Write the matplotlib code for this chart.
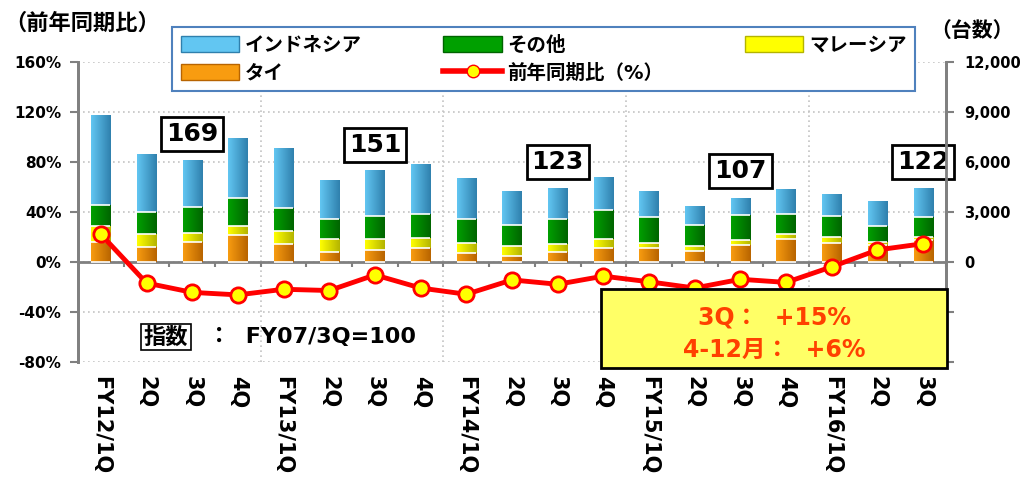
import matplotlib

matplotlib.use("Agg")
import matplotlib.pyplot as plt  # noqa: E402
import numpy as np  # noqa: E402
from matplotlib.colors import LinearSegmentedColormap  # noqa: E402
from matplotlib.lines import Line2D  # noqa: E402
from matplotlib.patches import Patch, Rectangle  # noqa: E402
from matplotlib.ticker import FuncFormatter  # noqa: E402

plt.rcParams["font.family"] = ["DejaVu Sans", "Noto Sans CJK JP"]
plt.rcParams["font.weight"] = "bold"

# データ
quarters = ["FY12/1Q", "2Q", "3Q", "4Q", "FY13/1Q", "2Q", "3Q", "4Q",
            "FY14/1Q", "2Q", "3Q", "4Q", "FY15/1Q", "2Q", "3Q", "4Q",
            "FY16/1Q", "2Q", "3Q"]
thai = [1200, 880, 1160, 1580, 1060, 580, 700, 840, 540, 360,
        560, 820, 800, 660, 1020, 1380, 1100, 1000, 1300]
malaysia = [980, 780, 560, 580, 800, 780, 680, 600, 600, 600,
            480, 560, 300, 300, 280, 280, 400, 200, 200]
others = [1220, 1340, 1600, 1660, 1380, 1240, 1360, 1460, 1440, 1240,
          1520, 1720, 1600, 1240, 1540, 1240, 1240, 940, 1200]
indonesia = [5400, 3440, 2780, 3600, 3580, 2340, 2720, 2960, 2440, 2000,
             1840, 1980, 1540, 1140, 1020, 1460, 1320, 1500, 1720]
yoy = [22, -17, -24.5, -26.5, -22, -23, -10.5, -21, -26, -14.5,
       -18, -11.5, -16, -21, -14, -16.5, -4, 9.5, 14.5]
index_pos = [2, 6, 10, 14, 18]
index_vals = [169, 151, 123, 107, 122]

# 色 (明, 暗)
C_IDN = ("#62c6f2", "#2f80ad")
C_OTH = ("#00a000", "#006400")
C_MYS = ("#ffff00", "#b4b400")
C_THA = ("#f89c10", "#b86400")
GRID = "#c4c4c4"
SPINE = "#808080"


def shade(ax, bars, cols):
    cmap = LinearSegmentedColormap.from_list("g", cols)
    grad = np.linspace(0, 1, 64).reshape(1, -1)
    for b in bars:
        x, y = b.get_x(), b.get_y()
        w, h = b.get_width(), b.get_height()
        if h <= 0:
            continue
        ax.imshow(grad, extent=[x, x + w, y, y + h], aspect="auto", cmap=cmap,
                  zorder=2, interpolation="bicubic")
        ax.hlines(y, x, x + w, color="white", lw=1.2, zorder=3)


fig = plt.figure(figsize=(10.24, 4.78), dpi=100)
ax = fig.add_axes([0.0762, 0.2433, 0.8476, 0.627])
ax2 = ax.twinx()
ax.set_zorder(ax2.get_zorder() + 1)
ax.patch.set_visible(False)

x = np.arange(len(quarters))
w = 0.42

# 台数 (右軸)
b1 = np.array(thai)
b2 = b1 + np.array(malaysia)
b3 = b2 + np.array(others)
bars_t = ax2.bar(x, thai, w, color=C_THA[0], zorder=2)
bars_m = ax2.bar(x, malaysia, w, bottom=b1, color=C_MYS[0], zorder=2)
bars_o = ax2.bar(x, others, w, bottom=b2, color=C_OTH[0], zorder=2)
bars_i = ax2.bar(x, indonesia, w, bottom=b3, color=C_IDN[0], zorder=2)
for bars, cols in [(bars_t, C_THA), (bars_m, C_MYS), (bars_o, C_OTH), (bars_i, C_IDN)]:
    shade(ax2, bars, cols)

ax2.set_xlim(-0.5, len(quarters) - 0.5)
ax2.set_ylim(-6000, 12000)
ax2.set_yticks(np.arange(-6000, 12001, 3000))
ax2.yaxis.set_major_formatter(FuncFormatter(lambda v, p: f"{v:,.0f}" if v >= 0 else ""))
ax2.set_axisbelow(True)
ax2.grid(axis="y", color=GRID, ls=(0, (1, 2)), lw=1.2, zorder=0)
for xv in [3.5, 7.5, 11.5, 15.5]:
    ax2.axvline(xv, color=GRID, ls=(0, (1, 2)), lw=1.2, zorder=0)
ax2.axhline(0, color=SPINE, lw=2, zorder=1)
ax2.vlines(np.arange(len(quarters) + 1) - 0.5, -300, 0, color=SPINE, lw=1.5, zorder=1)

# 前年同期比 (左軸)
ax.plot(x, yoy, color="#ff0000", lw=3.5, marker="o", ms=11, mfc="#ffff00",
        mec="#ff0000", mew=2, zorder=5, clip_on=False)
ax.set_xlim(-0.5, len(quarters) - 0.5)
ax.set_ylim(-80, 160)
ax.set_yticks(np.arange(-80, 161, 40))
ax.yaxis.set_major_formatter(FuncFormatter(lambda v, p: f"{v:.0f}%"))
ax.set_xticks(x)
ax.set_xticklabels(quarters, rotation=270, fontsize=15, fontweight="bold")
ax.tick_params(axis="x", length=0, pad=10)

for a in (ax, ax2):
    for s in ("top", "bottom"):
        a.spines[s].set_visible(False)
    a.spines["left"].set_color(SPINE)
    a.spines["right"].set_color(SPINE)
    a.spines["left"].set_linewidth(2)
    a.spines["right"].set_linewidth(2)
ax.tick_params(axis="y", length=6, width=1.5, color=SPINE, labelsize=11, pad=6)
ax2.tick_params(axis="y", length=6, width=1.5, color=SPINE, labelsize=10.5, pad=7)
ax2.tick_params(axis="x", length=0, labelbottom=False)
for lab in ax.get_yticklabels() + ax2.get_yticklabels():
    lab.set_fontweight("bold")

# 指数ラベル
for p, v in zip(index_pos, index_vals):
    top = thai[p] + malaysia[p] + others[p] + indonesia[p]
    ax2.annotate(str(v), (p, top), xytext=(0, 19), textcoords="offset points",
                 ha="center", va="center", fontsize=18, fontweight="bold",
                 zorder=6, annotation_clip=False,
                 bbox=dict(boxstyle="square,pad=0.2", fc="white", ec="black", lw=2))

# 軸タイトル
fig.text(0.004, 0.952, "（前年同期比）", fontsize=16, fontweight="bold", ha="left", va="center")
fig.text(0.99, 0.935, "（台数）", fontsize=15, fontweight="bold", ha="right", va="center")

# 凡例
handles = [
    Patch(fc=C_IDN[0], ec=C_IDN[1]),
    Patch(fc=C_THA[0], ec=C_THA[1]),
    Patch(fc=C_OTH[0], ec=C_OTH[1]),
    Line2D([0], [0], color="#ff0000", lw=4, marker="o", ms=9, mfc="#ffff00", mec="#ff0000"),
    Patch(fc=C_MYS[0], ec=C_MYS[1]),
]
labels = ["インドネシア", "タイ", "その他", "前年同期比（%）", "マレーシア"]
leg = fig.legend(handles, labels, loc="center", ncol=3, mode="expand",
                 bbox_to_anchor=(0.168, 0.799, 0.726, 0.155), borderaxespad=0,
                 fancybox=False, framealpha=1, edgecolor="#4f81bd",
                 prop=dict(size=14, weight="bold"), handlelength=3.0, handleheight=0.9,
                 handletextpad=0.3, labelspacing=0.45, borderpad=0.45)
leg.get_frame().set_linewidth(1.5)

# 注記
fig.text(0.14, 0.295, "指数", fontsize=16, fontweight="bold", ha="left", va="center",
         bbox=dict(boxstyle="square,pad=0.12", fc="white", ec="black", lw=1.2))
fig.text(0.203, 0.295, "：  FY07/3Q=100", fontsize=16, fontweight="bold", ha="left", va="center")

fig.patches.append(Rectangle((0.587, 0.23), 0.338, 0.165, transform=fig.transFigure,
                             fc="#ffff66", ec="black", lw=2, zorder=10))
fig.text(0.756, 0.335, "3Q：  +15%", fontsize=17, fontweight="bold", color="#ff4000",
         ha="center", va="center", zorder=11)
fig.text(0.756, 0.268, "4-12月：  +6%", fontsize=17, fontweight="bold", color="#ff4000",
         ha="center", va="center", zorder=11)

fig.savefig("out.png", dpi=100, facecolor="white")
